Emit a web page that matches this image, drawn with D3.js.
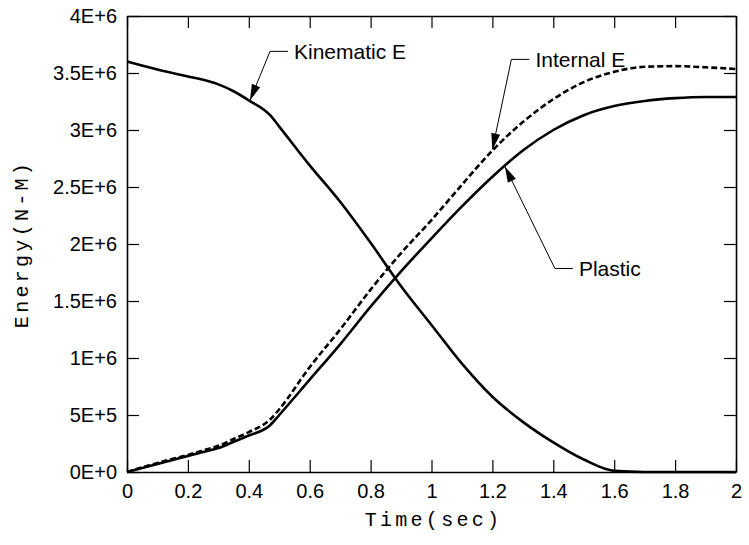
<!DOCTYPE html>
<html>
<head>
<meta charset="utf-8">
<script src="https://cdn.jsdelivr.net/npm/d3@7"></script>
<style>
  body { margin: 0; background: #fff; }
  .tick text { font-family: "Liberation Sans", Arial, sans-serif; font-size: 20px; fill: #000; }
  .tick line { stroke: #000; stroke-width: 1.2; }
  .domain { stroke: #000; stroke-width: 1.6; }
</style>
</head>
<body>
<div id="chart"></div>
<script>
// time (sec) and energies (units of 1E+6 N-M)
var timeSec   = [0, 0.1, 0.2, 0.25, 0.3, 0.35, 0.4, 0.47, 0.5, 0.6, 0.7, 0.8, 0.9, 1.0, 1.1, 1.2, 1.3, 1.4, 1.5, 1.6, 1.7, 1.8, 1.9, 2.0];
var kinematic = [3.60, 3.53, 3.47, 3.44, 3.40, 3.34, 3.26, 3.13, 3.03, 2.69, 2.37, 2.01, 1.63, 1.29, 0.95, 0.66, 0.44, 0.26, 0.11, 0.01, 0, 0, 0, 0];
var internal  = [0, 0.08, 0.15, 0.19, 0.23, 0.29, 0.35, 0.46, 0.55, 0.92, 1.25, 1.60, 1.92, 2.21, 2.52, 2.82, 3.07, 3.27, 3.42, 3.51, 3.555, 3.56, 3.55, 3.535];
var plastic   = [0, 0.07, 0.14, 0.175, 0.21, 0.265, 0.32, 0.41, 0.50, 0.81, 1.12, 1.45, 1.76, 2.05, 2.33, 2.59, 2.82, 3.00, 3.13, 3.21, 3.255, 3.28, 3.29, 3.29];

var xTicks = [0, 0.2, 0.4, 0.6, 0.8, 1, 1.2, 1.4, 1.6, 1.8, 2];
var xTickLabels = ["0", "0.2", "0.4", "0.6", "0.8", "1", "1.2", "1.4", "1.6", "1.8", "2"];
var yTicks = [0, 0.5, 1, 1.5, 2, 2.5, 3, 3.5, 4];
var yTickLabels = ["0E+0", "5E+5", "1E+6", "1.5E+6", "2E+6", "2.5E+6", "3E+6", "3.5E+6", "4E+6"];

// callouts: label, point on the curve (time, energy)
var calloutLabels = ["Kinematic E", "Internal E", "Plastic"];
var calloutPoints = [[0.404, 3.26], [1.2, 2.83], [1.241, 2.68]];

var w = 749;
var h = 545;
var plotLeft = 127, plotRight = 736, plotTop = 16, plotBottom = 472;
var tickLen = 12;

var svg = d3.select("#chart")
            .append("svg")
            .attr("width", w)
            .attr("height", h);

svg.append("rect").attr("width", w).attr("height", h).attr("fill", "#fff");

var x = d3.scaleLinear().domain([0, 2]).range([plotLeft, plotRight]);
var y = d3.scaleLinear().domain([0, 4]).range([plotBottom, plotTop]);

svg.append("g")
    .attr("transform", "translate(0," + plotBottom + ")")
    .call(d3.axisBottom(x).tickValues(xTicks).tickSize(-tickLen).tickSizeOuter(0).tickPadding(12)
          .tickFormat(function(d, i) { return xTickLabels[i]; }));

svg.append("g")
    .attr("transform", "translate(0," + plotTop + ")")
    .call(d3.axisTop(x).tickValues(xTicks).tickSize(-tickLen).tickSizeOuter(0).tickFormat(""));

svg.append("g")
    .attr("transform", "translate(" + plotLeft + ",0)")
    .call(d3.axisLeft(y).tickValues(yTicks).tickSize(-tickLen).tickSizeOuter(0).tickPadding(10)
          .tickFormat(function(d, i) { return yTickLabels[i]; }));

svg.append("g")
    .attr("transform", "translate(" + plotRight + ",0)")
    .call(d3.axisRight(y).tickValues(yTicks).tickSize(-tickLen).tickSizeOuter(0).tickFormat(""));

var line = d3.line()
    .x(function(d) { return x(d[0]); })
    .y(function(d) { return y(d[1]); })
    .curve(d3.curveMonotoneX);

function pairs(vals) {
    return timeSec.map(function(t, i) { return [t, vals[i]]; });
}

svg.append("path")
    .attr("d", line(pairs(kinematic)))
    .attr("fill", "none").attr("stroke", "#000").attr("stroke-width", 2.6);

svg.append("path")
    .attr("d", line(pairs(plastic)))
    .attr("fill", "none").attr("stroke", "#000").attr("stroke-width", 2.6);

svg.append("path")
    .attr("d", line(pairs(internal)))
    .attr("fill", "none").attr("stroke", "#000").attr("stroke-width", 2.6)
    .attr("stroke-dasharray", "6,3");

// leader geometry relative to the curve point: elbow offset, then horizontal run
var leaderOffsets = [[20, -49], [19, -90], [50, 102]];
var leaderRun = 18;

calloutLabels.forEach(function(label, i) {
    var px = x(calloutPoints[i][0]), py = y(calloutPoints[i][1]);
    var ex = px + leaderOffsets[i][0], ey = py + leaderOffsets[i][1];
    svg.append("polyline")
        .attr("points", [[px, py], [ex, ey], [ex + leaderRun, ey]].map(function(p) { return p.join(","); }).join(" "))
        .attr("fill", "none").attr("stroke", "#000").attr("stroke-width", 1);
    // arrow head
    var ang = Math.atan2(ey - py, ex - px);
    var len = 16, hw = 4.5;
    var bx = px + len * Math.cos(ang), by = py + len * Math.sin(ang);
    var nx = -Math.sin(ang) * hw, ny = Math.cos(ang) * hw;
    svg.append("polygon")
        .attr("points", [[px, py], [bx + nx, by + ny], [bx - nx, by - ny]].map(function(p) { return p.join(","); }).join(" "))
        .attr("fill", "#000");
    svg.append("text")
        .attr("x", ex + leaderRun + 6)
        .attr("y", ey + 7.6)
        .style("font-family", "'Liberation Sans', Arial, sans-serif")
        .style("font-size", "21px")
        .text(label);
});

svg.append("text")
    .attr("x", (plotLeft + plotRight) / 2 + 2)
    .attr("y", 526)
    .attr("text-anchor", "middle")
    .style("font-family", "'Liberation Mono', 'Courier New', monospace")
    .style("font-size", "20px")
    .style("letter-spacing", "3.3px")
    .text("Time(sec)");

svg.append("text")
    .attr("transform", "translate(28," + ((plotTop + plotBottom) / 2) + ") rotate(-90)")
    .attr("text-anchor", "middle")
    .style("font-family", "'Liberation Mono', 'Courier New', monospace")
    .style("font-size", "20px")
    .style("letter-spacing", "3.3px")
    .text("Energy(N-M)");
</script>
</body>
</html>
